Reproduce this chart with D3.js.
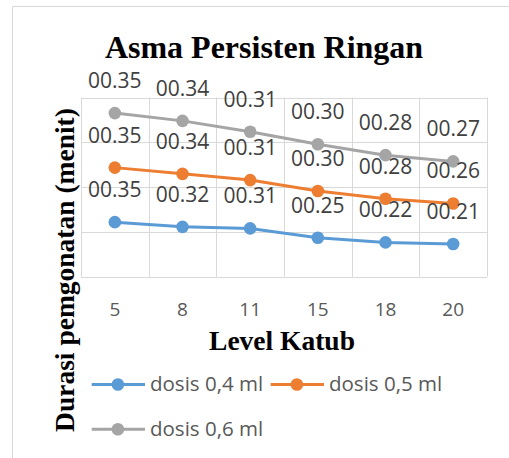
<!DOCTYPE html>
<html><head><meta charset="utf-8">
<script src="https://cdn.jsdelivr.net/npm/d3@7"></script>
<style>body{margin:0;background:#fff}svg{display:block}</style>
</head><body>
<script>
// Data (durations in seconds, shown as "00.ss"); the chart is a stacked line chart
const categories = ["5", "8", "11", "15", "18", "20"];
const seriesNames = ["dosis 0,4 ml", "dosis 0,5 ml", "dosis 0,6 ml"];
const dosis04 = [35, 32, 31, 25, 22, 21];
const dosis05 = [35, 34, 31, 30, 28, 26];
const dosis06 = [35, 34, 31, 30, 28, 27];
const yTicks = [0, 28.75, 57.5, 86.25, 115];
const colors = ["#5B9BD5", "#ED7D31", "#A5A5A5"];
const titleText = "Asma Persisten Ringan";
const xTitle = "Level Katub";
const yTitle = "Durasi pemgonatan (menit)";

const W = 509, H = 458;
const plot = {l: 81, r: 487, t: 97.5, b: 276.7};

const svg = d3.select("body").append("svg").attr("width", W).attr("height", H);

// chart frame
svg.append("path").attr("d", `M12.5,${H} V6.5 H${W}`).attr("fill", "none").attr("stroke", "#d9d9d9").attr("stroke-width", 1);

const rows = categories.map((c, i) => ({cat: c, s0: dosis04[i], s1: dosis05[i], s2: dosis06[i]}));
const stack = d3.stack().keys(["s0", "s1", "s2"]);
const stacked = stack(rows);

const x = d3.scaleBand().domain(categories).range([plot.l, plot.r]).padding(0);
const y = d3.scaleLinear().domain([yTicks[0], yTicks[yTicks.length - 1]]).range([plot.b, plot.t]);

// gridlines
const g = svg.append("g");
g.selectAll("line.h").data(yTicks).join("line")
  .attr("x1", plot.l).attr("x2", plot.r)
  .attr("y1", d => Math.round(y(d)) + 0.5).attr("y2", d => Math.round(y(d)) + 0.5)
  .attr("stroke", "#d9d9d9").attr("stroke-width", 1);
const vb = categories.map(c => x(c)).concat([plot.r]);
g.selectAll("line.v").data(vb).join("line")
  .attr("x1", d => Math.round(d) + 0.5).attr("x2", d => Math.round(d) + 0.5)
  .attr("y1", plot.t).attr("y2", plot.b)
  .attr("stroke", "#d9d9d9").attr("stroke-width", 1);

// x axis tick labels
const xAxis = d3.axisBottom(x).tickSize(0).tickPadding(0);
const ax = svg.append("g").attr("transform", `translate(0,${plot.b})`).call(xAxis);
ax.select(".domain").remove();
ax.selectAll("text").attr("font-family", "'Open Sans', sans-serif").attr("font-size", 19)
  .attr("fill", "#595959").attr("dy", null).attr("y", 39.5);

const cx = c => x(c) + x.bandwidth() / 2;
const line = d3.line().x(d => cx(d.data.cat)).y(d => y(d[1]));
const fmt = d3.format("02d");

stacked.forEach((s, k) => {
  svg.append("path").datum(s).attr("d", line).attr("fill", "none")
    .attr("stroke", colors[k]).attr("stroke-width", 3).attr("stroke-linejoin", "round").attr("stroke-linecap", "round");
});
stacked.forEach((s, k) => {
  svg.append("g").selectAll("circle").data(s).join("circle")
    .attr("cx", d => cx(d.data.cat)).attr("cy", d => y(d[1])).attr("r", 6.3).attr("fill", colors[k]);
});
stacked.forEach((s, k) => {
  svg.append("g").selectAll("text").data(s).join("text")
    .attr("x", d => cx(d.data.cat)).attr("y", d => y(d[1]) - 25)
    .attr("text-anchor", "middle").attr("font-family", "'Open Sans', sans-serif").attr("font-size", 21)
    .attr("fill", "#404040").text(d => "00." + fmt(d[1] - d[0]));
});

// titles
svg.append("text").attr("x", 264).attr("y", 57.5).attr("text-anchor", "middle")
  .attr("font-family", "'Liberation Serif', 'Times New Roman', serif").attr("font-weight", "bold")
  .attr("font-size", 32).attr("fill", "#000").text(titleText);
svg.append("text").attr("x", 282).attr("y", 350).attr("text-anchor", "middle")
  .attr("font-family", "'Liberation Serif', 'Times New Roman', serif").attr("font-weight", "bold")
  .attr("font-size", 27.5).attr("fill", "#000").text(xTitle);
svg.append("text").attr("transform", "translate(74,270) rotate(-90)").attr("text-anchor", "middle")
  .attr("font-family", "'Liberation Serif', 'Times New Roman', serif").attr("font-weight", "bold")
  .attr("font-size", 27.5).attr("fill", "#000").text(yTitle);

// legend
const legendPos = [{x: 91.7, y: 384.5}, {x: 270.7, y: 384.5}, {x: 91.7, y: 429.3}];
seriesNames.forEach((n, k) => {
  const p = legendPos[k];
  const lg = svg.append("g").attr("transform", `translate(${p.x},${p.y})`);
  lg.append("line").attr("x1", 0).attr("x2", 53.3).attr("y1", 0).attr("y2", 0)
    .attr("stroke", colors[k]).attr("stroke-width", 3);
  lg.append("circle").attr("cx", 26.2).attr("cy", 0).attr("r", 6.3).attr("fill", colors[k]);
  lg.append("text").attr("x", 58.3).attr("y", 6.5).attr("font-family", "'Open Sans', sans-serif")
    .attr("font-size", 20.5).attr("fill", "#595959").text(n);
});
</script>
</body></html>
